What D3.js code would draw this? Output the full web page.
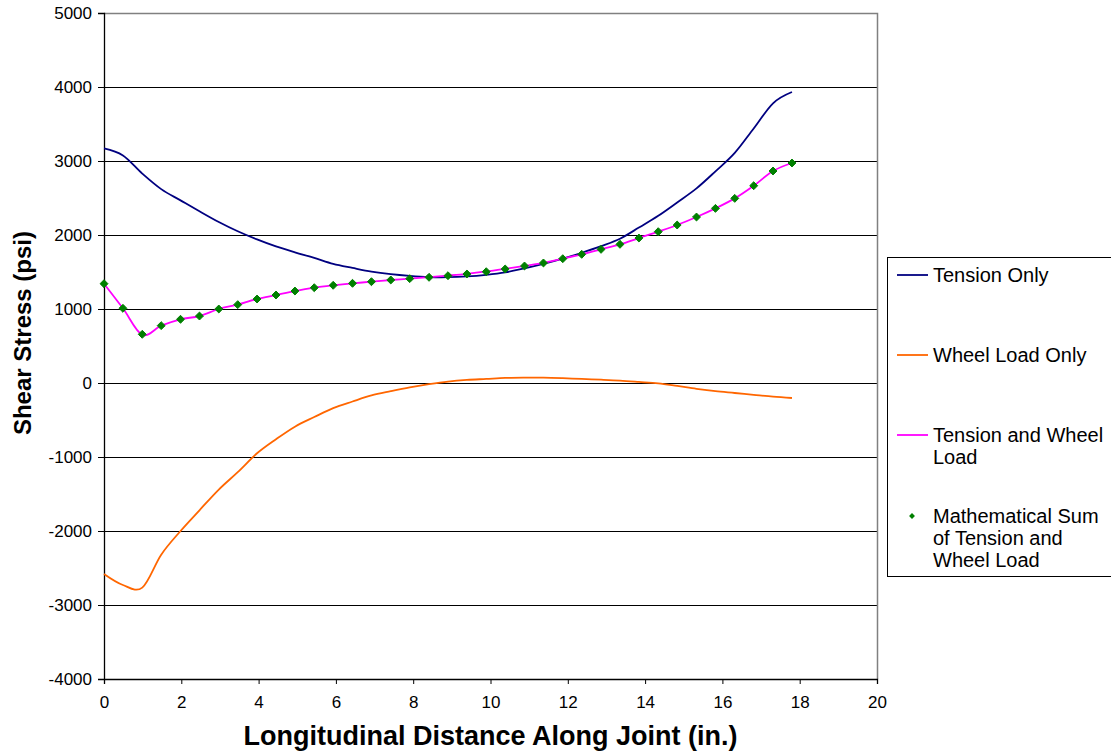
<!DOCTYPE html>
<html lang="en">
<head>
<meta charset="UTF-8">
<title>Shear Stress Along Joint</title>
<style>
  body { margin: 0; background: #fff; }
  svg { display: block; font-family: Arial, "Liberation Sans", sans-serif; }
  .grid line { stroke: #000; stroke-width: 1px; shape-rendering: crispEdges; }
  .tick text { font-size: 17px; fill: #000; }
  .legend text { font-size: 20px; fill: #000; }
</style>
</head>
<body>
<svg width="1111" height="754"></svg>
<script src="https://d3js.org/d3.v7.min.js"></script>
<script>
// positions along the joint (in.)
const xs = [0, 0.49, 0.99, 1.48, 1.98, 2.47, 2.97, 3.46, 3.96, 4.45, 4.94, 5.44, 5.93,
  6.43, 6.92, 7.42, 7.91, 8.41, 8.90, 9.39, 9.89, 10.38, 10.88, 11.37, 11.87, 12.36,
  12.86, 13.35, 13.84, 14.34, 14.83, 15.33, 15.82, 16.32, 16.81, 17.31, 17.80];

const tensionOnly = [3170, 3075, 2830, 2620, 2468, 2320, 2175, 2050, 1940, 1845, 1765,
  1690, 1610, 1555, 1505, 1470, 1447, 1432, 1430, 1440, 1462, 1495, 1550, 1610, 1680,
  1760, 1850, 1950, 2100, 2260, 2440, 2630, 2860, 3110, 3440, 3780, 3932];

const wheelOnly = [-2581, -2730, -2765, -2320, -2000, -1720, -1440, -1205, -950, -760,
  -590, -460, -340, -250, -168, -110, -58, -15, 20, 42, 55, 68, 72, 72, 65, 55, 45, 33,
  15, -5, -40, -78, -110, -135, -160, -185, -203];

const tensionWheel = [1342, 1009, 650, 775, 861, 905, 1000, 1059, 1135, 1189, 1243,
  1288, 1320, 1347, 1369, 1392, 1410, 1430, 1452, 1476, 1507, 1543, 1582, 1622, 1680,
  1739, 1806, 1874, 1959, 2045, 2135, 2243, 2360, 2495, 2666, 2865, 2973];

const mathSum = [1342, 1009, 658, 775, 861, 905, 1000, 1059, 1135, 1189, 1243, 1288,
  1320, 1347, 1369, 1392, 1410, 1428, 1450, 1473, 1504, 1541, 1581, 1622, 1680, 1739,
  1806, 1874, 1959, 2045, 2135, 2243, 2360, 2495, 2666, 2865, 2973];

const xTicks = [0, 2, 4, 6, 8, 10, 12, 14, 16, 18, 20];
const yTicks = [-4000, -3000, -2000, -1000, 0, 1000, 2000, 3000, 4000, 5000];

const svg = d3.select("svg");
const plotLeft = 104, plotRight = 877, plotTop = 13, plotBottom = 679;

const x = d3.scaleLinear().domain([0, 20]).range([plotLeft, plotRight]);
const y = d3.scaleLinear().domain([-4000, 5000]).range([plotBottom, plotTop]);

// grid lines
svg.append("g").attr("class", "grid")
  .selectAll("line")
  .data(yTicks.filter(v => v > -4000 && v < 5000))
  .join("line")
  .attr("x1", plotLeft).attr("x2", plotRight)
  .attr("y1", d => Math.round(y(d)) + 0.5).attr("y2", d => Math.round(y(d)) + 0.5);

// plot frame (top and right)
svg.append("path")
  .attr("d", `M${plotLeft},${plotTop + 0.5}H${plotRight + 0.5}V${plotBottom}`)
  .attr("fill", "none").attr("stroke", "#808080").attr("stroke-width", 1.5);

// axes
const plain = d => String(d);
const xAxis = svg.append("g")
  .attr("transform", `translate(0,${plotBottom})`)
  .call(d3.axisBottom(x).tickValues(xTicks).tickFormat(plain).tickSize(5).tickPadding(12));
const yAxis = svg.append("g")
  .attr("transform", `translate(${plotLeft},0)`)
  .call(d3.axisLeft(y).tickValues(yTicks).tickFormat(plain).tickSize(6).tickPadding(6));
[xAxis, yAxis].forEach(a => {
  a.select(".domain").attr("stroke", "#000").attr("stroke-width", 1.3);
  a.selectAll(".tick line").attr("stroke", "#000");
  a.attr("font-family", null).attr("font-size", null);
});

const curve = d3.curveCardinal.tension(0);
const lineGen = vals => d3.line()
  .x((d, i) => x(xs[i]))
  .y(d => y(d))
  .curve(curve)(vals);

svg.append("path").attr("d", lineGen(tensionOnly))
  .attr("fill", "none").attr("stroke", "#000080").attr("stroke-width", 1.8);
svg.append("path").attr("d", lineGen(wheelOnly))
  .attr("fill", "none").attr("stroke", "#ff6600").attr("stroke-width", 1.8);
svg.append("path").attr("d", lineGen(tensionWheel))
  .attr("fill", "none").attr("stroke", "#ff00ff").attr("stroke-width", 1.8);

const diamond = d3.symbol().type(d3.symbolDiamond2).size(40);
svg.append("g").selectAll("path")
  .data(mathSum)
  .join("path")
  .attr("transform", (d, i) => `translate(${x(xs[i])},${y(d)})`)
  .attr("d", diamond)
  .attr("fill", "#008000").attr("stroke", "#008000").attr("stroke-width", 1);

// axis titles
svg.append("text")
  .attr("x", (plotLeft + plotRight) / 2).attr("y", 745)
  .attr("text-anchor", "middle")
  .attr("font-size", 27).attr("font-weight", "bold")
  .text("Longitudinal Distance Along Joint (in.)");
svg.append("text")
  .attr("transform", "translate(31,333) rotate(-90)")
  .attr("text-anchor", "middle")
  .attr("font-size", 24).attr("font-weight", "bold")
  .text("Shear Stress (psi)");

// legend
const legend = svg.append("g").attr("class", "legend");
legend.append("rect")
  .attr("x", 887.5).attr("y", 257.5).attr("width", 240).attr("height", 319)
  .attr("fill", "#fff").attr("stroke", "#000").attr("stroke-width", 1);

const legendItems = [
  { color: "#000080", lines: ["Tension Only"], y: 275 },
  { color: "#ff6600", lines: ["Wheel Load Only"], y: 355 },
  { color: "#ff00ff", lines: ["Tension and Wheel", "Load"], y: 435 },
  { color: "#008000", lines: ["Mathematical Sum", "of Tension and", "Wheel Load"], y: 516, marker: true }
];
legendItems.forEach(it => {
  if (it.marker) {
    legend.append("path")
      .attr("transform", `translate(912,${it.y})`)
      .attr("d", d3.symbol().type(d3.symbolDiamond2).size(22))
      .attr("fill", it.color);
  } else {
    legend.append("line")
      .attr("x1", 897).attr("x2", 928).attr("y1", it.y).attr("y2", it.y)
      .attr("stroke", it.color).attr("stroke-width", 1.8);
  }
  const t = legend.append("text").attr("x", 933).attr("y", it.y + 7);
  it.lines.forEach((s, k) => {
    t.append("tspan").attr("x", 933).attr("dy", k === 0 ? 0 : 22).text(s);
  });
});
</script>
</body>
</html>
